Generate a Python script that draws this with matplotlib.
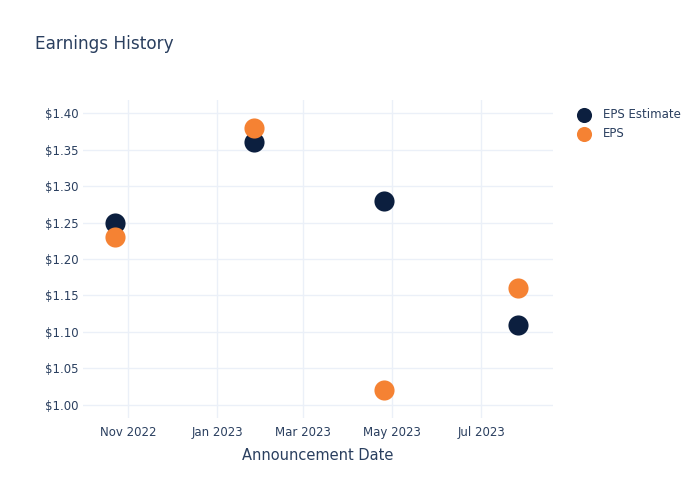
import matplotlib
matplotlib.use("Agg")
import matplotlib.pyplot as plt
import matplotlib.dates as mdates
import numpy as np
import datetime as dt

# Earnings data
dates = [dt.date(2022, 10, 23), dt.date(2023, 1, 26), dt.date(2023, 4, 25), dt.date(2023, 7, 26)]
eps_estimate = [1.25, 1.36, 1.28, 1.11]
eps_actual = [1.23, 1.38, 1.02, 1.16]

text_color = '#2a3f5f'
grid_color = '#ebf0f8'
estimate_color = '#0c1f3f'
actual_color = '#f58233'

plt.rcParams['font.family'] = ['DejaVu Sans']

fig = plt.figure(figsize=(7, 5), dpi=100)
ax = fig.add_axes([0.1186, 0.164, 0.671, 0.636])

ax.scatter(dates, eps_estimate, s=210, color=estimate_color, label='EPS Estimate', zorder=3, linewidths=0)
ax.scatter(dates, eps_actual, s=210, color=actual_color, label='EPS', zorder=4, linewidths=0)

ax.set_xlim(dt.date(2022, 10, 1), dt.date(2023, 8, 19))
ax.set_ylim(0.982, 1.418)

ax.set_yticks(np.arange(1.0, 1.41, 0.05))
ax.yaxis.set_major_formatter(plt.FuncFormatter(lambda v, p: f'${v:.2f}'))
ax.xaxis.set_major_locator(mdates.MonthLocator(bymonth=[1, 3, 5, 7, 11]))
ax.xaxis.set_major_formatter(mdates.DateFormatter('%b %Y'))

ax.grid(True, color=grid_color, linewidth=1)
ax.set_axisbelow(True)
for s in ax.spines.values():
    s.set_visible(False)
ax.tick_params(axis='x', length=0, colors=text_color, labelsize=8.5, pad=6)
ax.tick_params(axis='y', length=0, colors=text_color, labelsize=8.5, pad=3)

ax.set_xlabel('Announcement Date', color=text_color, fontsize=10.5, labelpad=6)
fig.text(0.05, 0.912, 'Earnings History', color=text_color, fontsize=12.2, va='center')

leg = ax.legend(loc='upper left', bbox_to_anchor=(1.017, 1.013), frameon=False,
                fontsize=8.5, labelcolor=text_color, handletextpad=0.6,
                borderaxespad=0.6, labelspacing=0.55, markerscale=0.75)

fig.savefig('out.png', dpi=100)
